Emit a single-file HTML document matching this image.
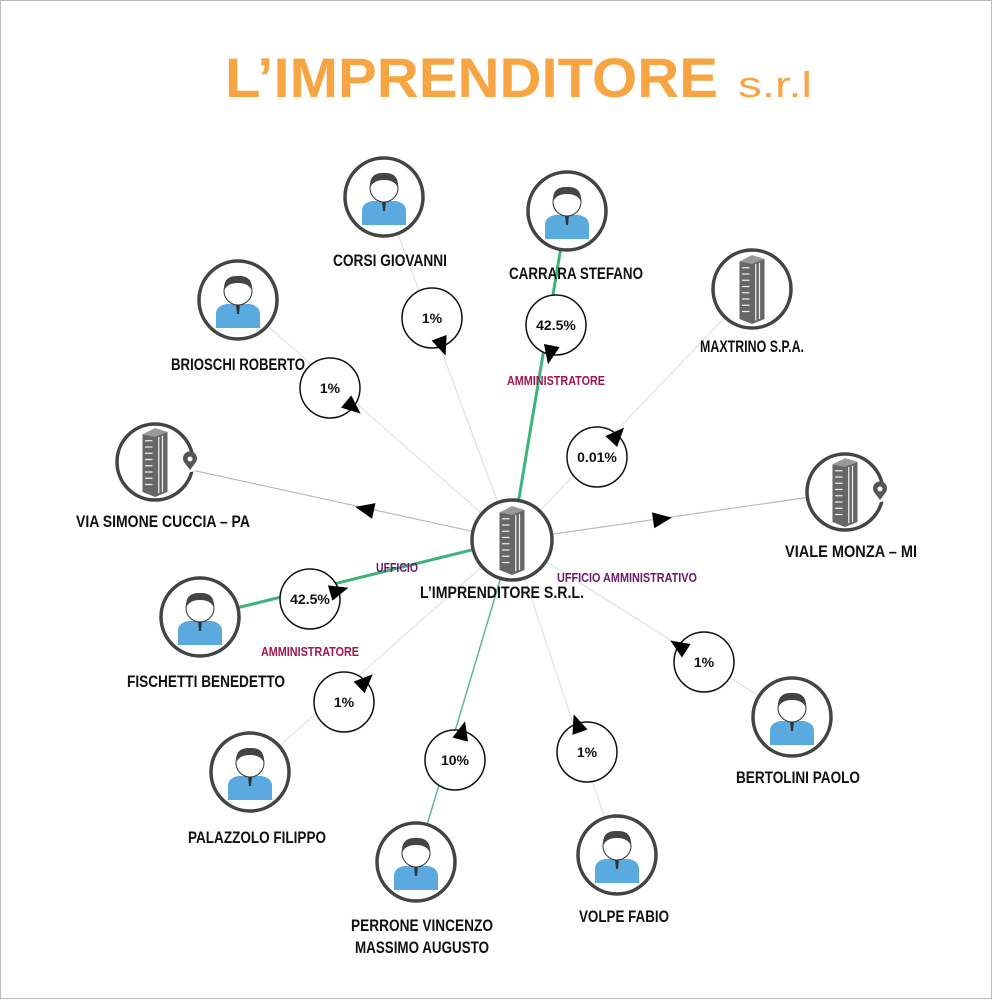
<!DOCTYPE html>
<html><head><meta charset="utf-8">
<style>
html,body{margin:0;padding:0;background:#fff;}
svg{display:block;}
.n{font-family:"Liberation Sans Narrow","Liberation Sans",sans-serif;font-weight:bold;font-size:17px;fill:#111;text-anchor:middle;}
.p{font-family:"Liberation Sans Narrow","Liberation Sans",sans-serif;font-weight:bold;font-size:14px;fill:#111;text-anchor:middle;}
.r{font-family:"Liberation Sans Narrow","Liberation Sans",sans-serif;font-weight:bold;font-size:13px;fill:#a3154f;text-anchor:middle;}
.u{font-family:"Liberation Sans Narrow","Liberation Sans",sans-serif;font-weight:bold;font-size:13px;fill:#6b1a6e;text-anchor:middle;}
</style></head>
<body>
<svg id="s" width="992" height="999" viewBox="0 0 992 999" xmlns="http://www.w3.org/2000/svg">
<defs>
<g id="person">
  <path d="M-22,28 L-22,14 Q-22,6 -12,4 L12,4 Q22,6 22,14 L22,28 Z" fill="#5aaae0"/>
  <path d="M-2,4 L2,4 L1,14 L-1,14 Z" fill="#333"/>
  <circle cx="0" cy="-9" r="14" fill="#fff" stroke="#333" stroke-width="1"/>
  <path d="M-14,-9 Q-15,-25 0,-24 Q15,-25 14,-9 Q11,-17 0,-17 Q-11,-17 -14,-9 Z" fill="#444"/>
</g>
<g id="bldg0">
  <path d="M-10,-22 L0,-27 L10,-24 L10,24 L0,28 L-10,24 Z" fill="#666"/>
  <path d="M-10,-22 L0,-27 L10,-24 L0,-20 Z" fill="#999"/>
  <g stroke="#eee" stroke-width="1">
    <line x1="-8" y1="-17" x2="-2" y2="-17"/><line x1="-8" y1="-12" x2="-2" y2="-12"/>
    <line x1="-8" y1="-7" x2="-2" y2="-7"/><line x1="-8" y1="-2" x2="-2" y2="-2"/>
    <line x1="-8" y1="3" x2="-2" y2="3"/><line x1="-8" y1="8" x2="-2" y2="8"/>
    <line x1="-8" y1="13" x2="-2" y2="13"/><line x1="-8" y1="18" x2="-2" y2="18"/>
    <line x1="3" y1="-20" x2="3" y2="25"/><line x1="6" y1="-21" x2="6" y2="24"/>
  </g>
</g>
<g id="bldg"><use href="#bldg0" transform="scale(1.25)"/></g>
<g id="pin">
  <circle r="10" fill="#fff"/>
  <path d="M0,8 L-6,0 A7,7 0 1 1 6,0 Z" fill="#555"/>
  <circle cy="-3" r="2.5" fill="#fff"/>
</g>
</defs>
<rect x="0.5" y="0.5" width="991" height="998" fill="#fff" stroke="#bbb"/>
<g id="lines"></g>
<g id="nodes"></g>
<text x="225" y="97" font-family="Liberation Sans,sans-serif" font-weight="bold" font-size="56" fill="#f7a443" textLength="493" lengthAdjust="spacingAndGlyphs">L’IMPRENDITORE</text>
<text x="738" y="97" font-family="Liberation Sans,sans-serif" font-size="36" fill="#f7a443" textLength="74" lengthAdjust="spacingAndGlyphs">s.r.l</text>

<text class="n" x="390" y="266" textLength="114" lengthAdjust="spacingAndGlyphs">CORSI GIOVANNI</text>
<text class="n" x="576" y="279" textLength="134" lengthAdjust="spacingAndGlyphs">CARRARA STEFANO</text>
<text class="n" x="752" y="352" textLength="104" lengthAdjust="spacingAndGlyphs">MAXTRINO S.P.A.</text>
<text class="n" x="238" y="370" textLength="134" lengthAdjust="spacingAndGlyphs">BRIOSCHI ROBERTO</text>
<text class="n" x="163" y="527" textLength="174" lengthAdjust="spacingAndGlyphs">VIA SIMONE CUCCIA – PA</text>
<text class="n" x="851" y="557" textLength="132" lengthAdjust="spacingAndGlyphs">VIALE MONZA – MI</text>
<text class="n" x="206" y="687" textLength="158" lengthAdjust="spacingAndGlyphs">FISCHETTI BENEDETTO</text>
<text class="n" x="257" y="843" textLength="138" lengthAdjust="spacingAndGlyphs">PALAZZOLO FILIPPO</text>
<text class="n" x="422" y="931" textLength="142" lengthAdjust="spacingAndGlyphs">PERRONE VINCENZO</text>
<text class="n" x="422" y="953" textLength="134" lengthAdjust="spacingAndGlyphs">MASSIMO AUGUSTO</text>
<text class="n" x="624" y="922" textLength="90" lengthAdjust="spacingAndGlyphs">VOLPE FABIO</text>
<text class="n" x="798" y="783" textLength="124" lengthAdjust="spacingAndGlyphs">BERTOLINI PAOLO</text>
<text class="n" x="502" y="598" textLength="164" lengthAdjust="spacingAndGlyphs">L’IMPRENDITORE S.R.L.</text>

<text class="r" x="556" y="385" textLength="98" lengthAdjust="spacingAndGlyphs">AMMINISTRATORE</text>
<text class="r" x="310" y="656" textLength="98" lengthAdjust="spacingAndGlyphs">AMMINISTRATORE</text>
<text class="u" x="397" y="572" textLength="42" lengthAdjust="spacingAndGlyphs">UFFICIO</text>
<text class="u" x="627" y="582" textLength="140" lengthAdjust="spacingAndGlyphs">UFFICIO AMMINISTRATIVO</text>
</svg>
<script>
var NS="http://www.w3.org/2000/svg";
var L=document.getElementById("lines"),N=document.getElementById("nodes");
function el(p,t,a){var e=document.createElementNS(NS,t);for(var k in a)e.setAttribute(k,a[k]);p.appendChild(e);return e;}
var C=[512,540];
var people=[
 [[384,197],[432,318],"1%","#cfe3da",1,1],
 [[567,211],[556,325],"42.5%","#3cb37a",3,1],
 [[238,300],[330,388],"1%","#cfe3da",1,1],
 [[200,617],[310,599],"42.5%","#3cb37a",3,1],
 [[250,772],[344,702],"1%","#cfe3da",1,1],
 [[416,862],[455,760],"10%","#5cba8e",1.5,1],
 [[617,855],[587,752],"1%","#cfe3da",1,1],
 [[792,717],[704,662],"1%","#cfe3da",1,1]
];
function tri(x,y,dx,dy){var l=Math.hypot(dx,dy);dx/=l;dy/=l;var px=-dy,py=dx;
 var tip=[x+dx*10,y+dy*10],b1=[x-dx*9+px*8,y-dy*9+py*8],b2=[x-dx*9-px*8,y-dy*9-py*8];
 el(N,"polygon",{points:tip+" "+b1+" "+b2,fill:"#000"});}
function pct(P,t,ax,ay,adx,ady){
 el(N,"circle",{cx:P[0],cy:P[1],r:30,fill:"#fff",stroke:"#111","stroke-width":1.5});
 tri(ax,ay,adx,ady);
 var tx=el(N,"text",{x:P[0],y:P[1]+5,"class":"p"});tx.textContent=t;
}
people.forEach(function(d){
 var A=d[0],P=d[1];
 el(L,"line",{x1:A[0],y1:A[1],x2:C[0],y2:C[1],stroke:d[3],"stroke-width":d[4]});
 var dx=C[0]-P[0],dy=C[1]-P[1],l=Math.hypot(dx,dy);
 pct(P,d[2],P[0]+dx/l*30,P[1]+dy/l*30,dx,dy);
 el(N,"circle",{cx:A[0],cy:A[1],r:39,fill:"#fff",stroke:"#444","stroke-width":3.5});
 el(N,"use",{href:"#person",x:A[0],y:A[1]});
});
var M=[752,289],Q=[597,457];
el(L,"line",{x1:M[0],y1:M[1],x2:C[0],y2:C[1],stroke:"#cfe3da","stroke-width":1});
(function(){var dx=M[0]-Q[0],dy=M[1]-Q[1],l=Math.hypot(dx,dy);pct(Q,"0.01%",Q[0]+dx/l*30,Q[1]+dy/l*30,dx,dy);})();
el(N,"circle",{cx:M[0],cy:M[1],r:39,fill:"#fff",stroke:"#444","stroke-width":3.5});
el(N,"use",{href:"#bldg",x:M[0],y:M[1]});
[[[155,462],[190,462],[365,509],-1],[[845,492],[880,492],[662,519],1]].forEach(function(d){
 var A=d[0];
 el(L,"line",{x1:A[0],y1:A[1],x2:C[0],y2:C[1],stroke:"#bbb","stroke-width":1.2});
 tri(d[2][0],d[2][1],(A[0]-C[0]),(A[1]-C[1]));
 el(N,"circle",{cx:A[0],cy:A[1],r:38,fill:"#fff",stroke:"#444","stroke-width":3.5});
 el(N,"use",{href:"#bldg",x:A[0],y:A[1]});
 el(N,"use",{href:"#pin",x:d[1][0],y:d[1][1]});
});
el(N,"circle",{cx:C[0],cy:C[1],r:40,fill:"#fff",stroke:"#444","stroke-width":3.5});
el(N,"use",{href:"#bldg",x:C[0],y:C[1]});
</script>
</body></html>
